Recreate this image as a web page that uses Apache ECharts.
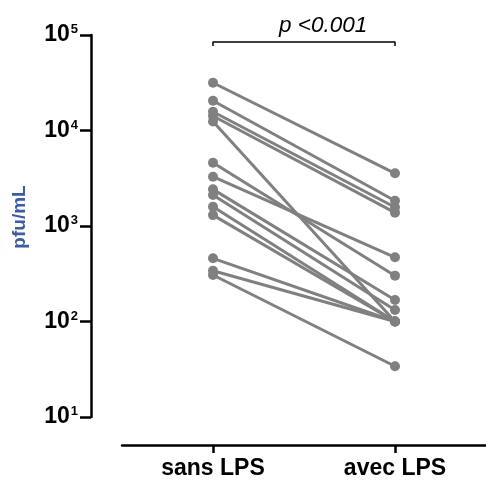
<!DOCTYPE html>
<html><head><meta charset="utf-8">
<script src="https://cdn.jsdelivr.net/npm/echarts@6/dist/echarts.min.js"></script>
<style>html,body{margin:0;padding:0;background:#fff}#c{width:486px;height:481px}</style>
</head><body><div id="c"></div>
<script>
const categories = ['sans LPS', 'avec LPS'];
const sansLPS = [31600, 20500, 15700, 14200, 12400, 4600, 3280, 2420, 2110, 1590, 1300, 459, 340, 307];
const avecLPS = [3560, 1840, 1570, 1380, 100, 302, 470, 168, 132, 100, 100, 100, 100, 34];
const yTicks = [10, 100, 1000, 10000, 100000];
const pText = 'p <0.001';
const bracketLow = 76800, bracketHigh = 84500;

const chart = echarts.init(document.getElementById('c'));
const series = sansLPS.map((v, i) => ({
  type: 'line',
  data: [[categories[0], v], [categories[1], avecLPS[i]]],
  symbol: 'circle', symbolSize: 10,
  lineStyle: { color: '#808080', width: 3 },
  itemStyle: { color: '#808080' },
  z: 2
}));
series.push({
  type: 'line',
  data: [[categories[0], bracketLow], [categories[0], bracketHigh], [categories[1], bracketHigh], [categories[1], bracketLow]],
  symbol: 'none',
  lineStyle: { color: '#000', width: 1.5 },
  z: 3
});
chart.setOption({
  animation: false,
  title: {
    text: pText, left: 274, top: 9,
    textStyle: { fontFamily: 'Liberation Sans', fontStyle: 'italic', fontWeight: 'normal', fontSize: 22.5, color: '#000' }
  },
  grid: { left: 122, right: -4, top: 35, bottom: 64 },
  xAxis: {
    type: 'category', data: categories, offset: 28,
    axisLine: { lineStyle: { color: '#000', width: 2.5 } },
    axisTick: { show: true, alignWithLabel: true, length: 8, lineStyle: { color: '#000', width: 2.5 } },
    axisLabel: { margin: 12, color: '#000', fontFamily: 'Liberation Sans', fontWeight: 'bold', fontSize: 23 }
  },
  yAxis: {
    type: 'log', logBase: 10, min: yTicks[0], max: yTicks[yTicks.length - 1], offset: 31,
    name: 'pfu/mL', nameLocation: 'middle', nameRotate: 90, nameGap: 62,
    nameTextStyle: { color: '#3b5ca8', fontFamily: 'Liberation Sans', fontWeight: 'bold', fontSize: 19, padding: [0, 0, 0, 18] },
    splitLine: { show: false },
    axisLine: { show: true, lineStyle: { color: '#000', width: 2.5 } },
    axisTick: { show: true, length: 11, lineStyle: { color: '#000', width: 2.5 } },
    axisLabel: {
      margin: 13,
      formatter: v => '{b|10}{s|' + Math.round(Math.log10(v)) + '}',
      rich: {
        b: { fontFamily: 'Liberation Sans', fontWeight: 'bold', fontSize: 23, color: '#000', lineHeight: 24 },
        s: { fontFamily: 'Liberation Sans', fontWeight: 'bold', fontSize: 13, color: '#000', verticalAlign: 'top', lineHeight: 24, padding: [0, 0, 8, 1] }
      }
    }
  },
  series: series
});
</script></body></html>
